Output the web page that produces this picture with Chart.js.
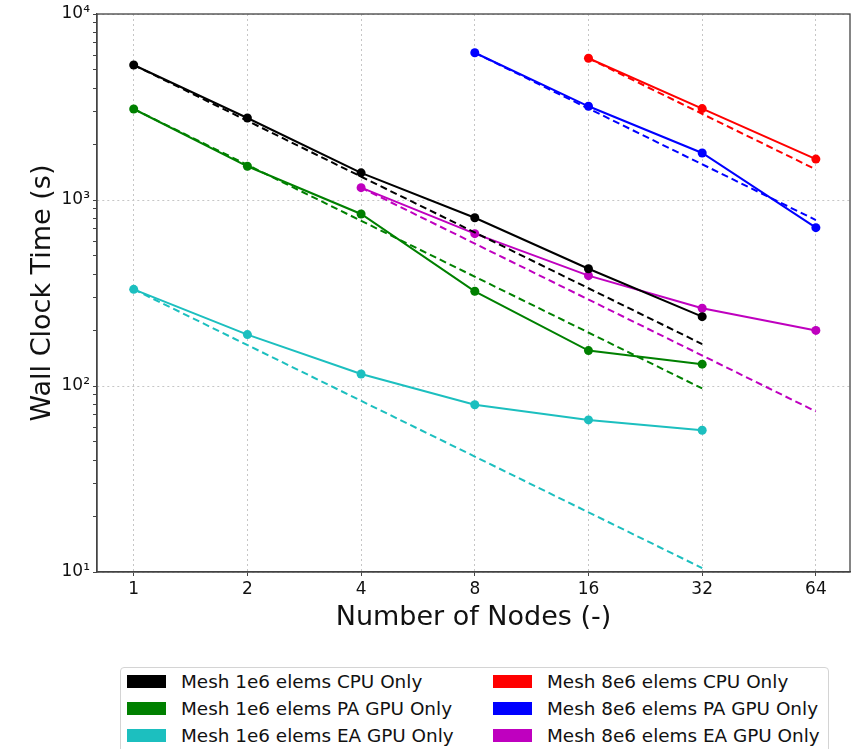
<!DOCTYPE html>
<html>
<head>
<meta charset="utf-8">
<script src="https://cdn.jsdelivr.net/npm/chart.js@4/dist/chart.umd.min.js"></script>
<style>
  body { margin: 0; background: #fff; overflow: hidden; }
  #wrap { position: relative; width: 856px; height: 749px; overflow: hidden; }
  #legend {
    position: absolute; left: 120px; top: 667px; width: 709px; height: 95px;
    border: 1px solid #d4d4d4; border-radius: 4px; background: #fff;
    display: grid; grid-template-columns: 366px 1fr; grid-template-rows: repeat(3, 27px);
    grid-auto-flow: column; padding-left: 6px; box-sizing: border-box;
    font-family: "DejaVu Sans", sans-serif; font-size: 18.4px; color: #111;
  }
  #legend .item { display: flex; align-items: center; white-space: nowrap; }
  #legend .patch { display: inline-block; width: 39px; height: 13px; margin-right: 15px; }
</style>
</head>
<body>
<div id="wrap">
  <canvas id="myChart" width="856" height="749"></canvas>
  <div id="legend"></div>
</div>
<script>
// measured runs (wall clock seconds) against node count
var nodes1e6 = [1, 2, 4, 8, 16, 32];
var cpu1e6 = [5320, 2760, 1400, 803, 427, 236];
var pa1e6 = [3085, 1518, 841, 323, 155, 131];
var ea1e6 = [331, 189, 116, 79.3, 65.7, 57.8];

var nodesCpu8e6 = [16, 32, 64];
var cpu8e6 = [5780, 3100, 1660];
var nodesPa8e6 = [8, 16, 32, 64];
var pa8e6 = [6190, 3190, 1790, 710];
var nodesEa8e6 = [4, 8, 16, 32, 64];
var ea8e6 = [1165, 659, 392, 262, 199];

// ideal scaling guides (dashed), end points
var idealNodes1e6 = [1, 32];
var idealCpu1e6 = [5320, 168];
var idealPa1e6 = [3085, 97];
var idealEa1e6 = [331, 10.5];
var idealNodesCpu8e6 = [16, 64];
var idealCpu8e6 = [5780, 1460];
var idealNodesPa8e6 = [8, 64];
var idealPa8e6 = [6190, 780];
var idealNodesEa8e6 = [4, 64];
var idealEa8e6 = [1165, 73];

var labels = ['Mesh 1e6 elems CPU Only', 'Mesh 1e6 elems PA GPU Only', 'Mesh 1e6 elems EA GPU Only',
              'Mesh 8e6 elems CPU Only', 'Mesh 8e6 elems PA GPU Only', 'Mesh 8e6 elems EA GPU Only'];
var colors = ['#000000', '#008000', '#1cbfbf', '#ff0000', '#0000ff', '#bf00bf'];

var xTicks = [1, 2, 4, 8, 16, 32, 64];
var yTicks = [10, 100, 1000, 10000];
var yTickLabels = ['10\u00b9', '10\u00b2', '10\u00b3', '10\u2074'];

function pts(xs, ys) {
  return xs.map(function (x, i) { return { x: x, y: ys[i] }; });
}

var runX = [nodes1e6, nodes1e6, nodes1e6, nodesCpu8e6, nodesPa8e6, nodesEa8e6];
var runY = [cpu1e6, pa1e6, ea1e6, cpu8e6, pa8e6, ea8e6];
var idealX = [idealNodes1e6, idealNodes1e6, idealNodes1e6, idealNodesCpu8e6, idealNodesPa8e6, idealNodesEa8e6];
var idealY = [idealCpu1e6, idealPa1e6, idealEa1e6, idealCpu8e6, idealPa8e6, idealEa8e6];

var datasets = [];
for (var i = 0; i < labels.length; i++) {
  datasets.push({
    label: labels[i],
    data: pts(runX[i], runY[i]),
    showLine: true,
    borderColor: colors[i],
    backgroundColor: colors[i],
    borderWidth: 2,
    pointRadius: 4.5,
    pointBorderWidth: 0
  });
  datasets.push({
    label: labels[i] + ' ideal',
    data: pts(idealX[i], idealY[i]),
    showLine: true,
    borderColor: colors[i],
    borderWidth: 2,
    borderDash: [7, 4],
    pointRadius: 0
  });
}

// minor ticks for the log y axis (2..9 in each decade)
var yMinor = [];
for (var d = 10; d < 10000; d *= 10) {
  for (var m = 2; m <= 9; m++) yMinor.push(d * m);
}

var gridGray = '#c6c6c6';
var spine = '#444444';

var frame = {
  id: 'frame',
  afterDraw: function (chart) {
    var a = chart.chartArea, c = chart.ctx;
    c.save();
    c.strokeStyle = spine;
    c.lineWidth = 1.3;
    c.strokeRect(a.left, a.top, a.right - a.left, a.bottom - a.top);
    c.restore();
  }
};

var ctx = document.getElementById('myChart');
var myChart = new Chart(ctx, {
  type: 'scatter',
  data: { datasets: datasets },
  options: {
    responsive: false,
    animation: false,
    layout: { padding: { left: 0, top: 14, right: 6, bottom: 107 } },
    plugins: { legend: { display: false }, tooltip: { enabled: false } },
    scales: {
      x: {
        type: 'logarithmic',
        min: 0.7995,
        max: 78.8,
        afterBuildTicks: function (s) { s.ticks = xTicks.map(function (v) { return { value: v }; }); },
        afterFit: function (s) { s.height = 70; },
        ticks: {
          autoSkip: false, maxRotation: 0, padding: 3, color: '#111',
          font: { family: 'DejaVu Sans', size: 17 },
          callback: function (v) { return String(v); }
        },
        grid: { color: gridGray, lineWidth: 1, tickLength: 4, tickColor: spine, tickBorderDash: [] },
        border: { color: spine, width: 1.3, dash: [2, 3] },
        title: {
          display: true, text: 'Number of Nodes (-)', color: '#111',
          font: { family: 'DejaVu Sans', size: 27 }, padding: { top: 0, bottom: 8 }
        }
      },
      y: {
        type: 'logarithmic',
        min: 10,
        max: 10000,
        afterBuildTicks: function (s) {
          s.ticks = yTicks.concat(yMinor).sort(function (a, b) { return a - b; })
            .map(function (v) { return { value: v }; });
        },
        afterFit: function (s) { s.width = 97; },
        ticks: {
          autoSkip: false, padding: 3, color: '#111',
          font: { family: 'DejaVu Sans', size: 17 },
          callback: function (v) {
            var k = yTicks.indexOf(v);
            return k >= 0 ? yTickLabels[k] : '';
          }
        },
        grid: {
          lineWidth: 1, tickLength: 4, tickColor: spine, tickBorderDash: [],
          color: function (c) {
            if (!c.tick) return gridGray;
            return yTicks.indexOf(c.tick.value) >= 0 ? gridGray : 'rgba(0,0,0,0)';
          }
        },
        border: { color: spine, width: 1.3, dash: [2, 3] },
        title: {
          display: true, text: 'Wall Clock Time (s)', color: '#111',
          font: { family: 'DejaVu Sans', size: 27 }, padding: { top: 27, bottom: 0 }
        }
      }
    }
  },
  plugins: [frame]
});

// legend in two columns, filled top to bottom
var leg = document.getElementById('legend');
labels.forEach(function (t, i) {
  var item = document.createElement('div');
  item.className = 'item';
  var p = document.createElement('span');
  p.className = 'patch';
  p.style.background = colors[i];
  item.appendChild(p);
  item.appendChild(document.createTextNode(t));
  leg.appendChild(item);
});
</script>
</body>
</html>
